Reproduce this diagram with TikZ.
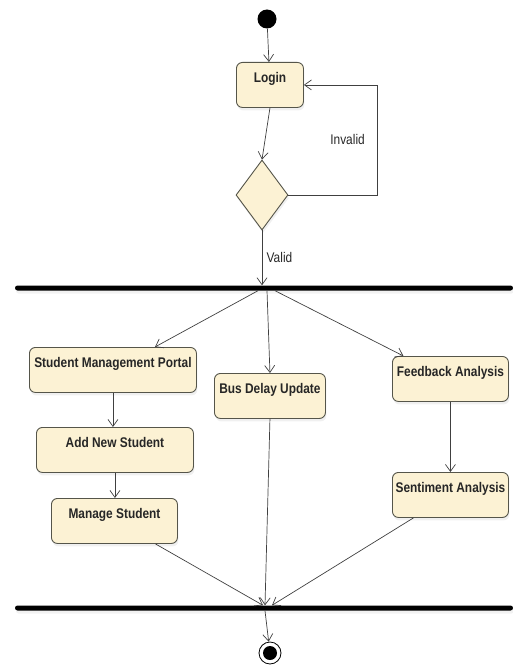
\documentclass[tikz,border=0pt]{standalone}
\usepackage{fontspec}
\setmainfont{Liberation Sans}[FakeStretch=0.85]
\usetikzlibrary{arrows.meta, positioning, shapes.geometric, shadows}

\definecolor{actfill}{HTML}{FCF2D4}
\definecolor{actline}{HTML}{55554A}

\begin{document}
\begin{tikzpicture}[x=1pt, y=-1pt,
    every node/.style={font=\fontsize{14}{16}\selectfont, text=black!85},
    act/.style={draw=actline, line width=0.9pt, fill=actfill, rounded corners=6pt, anchor=north west,
        inner xsep=2pt, inner ysep=3pt, text height=17pt, text depth=22pt,
        font=\bfseries\fontsize{14}{16}\selectfont,
        drop shadow={shadow xshift=1pt, shadow yshift=-3pt, opacity=0.12}},
    flow/.style={draw=black!75, line width=0.7pt, -{Straight Barb[length=7pt, width=10pt]}},
    bar/.style={fill=black, minimum width=498pt, minimum height=5pt, inner sep=0pt,
        rounded corners=2.5pt, drop shadow={shadow xshift=1pt, shadow yshift=-3pt, opacity=0.1}}]

\useasboundingbox (0,0) rectangle (513,669);

% start and login
\node[circle, fill=black, minimum size=19pt, inner sep=0pt] (init) at (267,19) {};
\node[act, minimum width=67pt] (login) at (236,62) {Login};

% decision
\node[diamond, draw=actline, line width=0.9pt, fill=actfill, minimum width=52pt, minimum height=70pt,
    inner sep=0pt, drop shadow={shadow xshift=1pt, shadow yshift=-3pt, opacity=0.12}] (dec) at (262,195) {};

% fork and join bars
\node[bar] (topbar) at (264,288) {};
\node[bar] (botbar) at (264,608) {};

% activities
\node[act, minimum width=167pt] (smp) at (29,347) {Student Management Portal};
\node[act, minimum width=157pt] (ans) at (36,427) {Add New Student};
\node[act, minimum width=126pt] (ms) at (51,498) {Manage Student};
\node[act, minimum width=111pt] (bdu) at (214,373) {Bus Delay Update};
\node[act, minimum width=116pt] (fa) at (392,356) {Feedback Analysis};
\node[act, minimum width=116pt] (sa) at (392,472) {Sentiment Analysis};

% end
\node[circle, draw=black, line width=0.8pt, minimum size=22pt, inner sep=0pt,
    path picture={\fill[black] (path picture bounding box.center) circle (7pt);}] (final) at (270,653) {};

% connectors
\draw[flow] (init) -- (login);
\draw[flow] (login.south) -- (dec.north);
\draw[flow] (dec.east) -- ++(89,0) |- node[pos=0.25, left=9pt] {Invalid} (login.east);
\draw[flow] (dec.south) -- (dec.south |- topbar.north) node[midway, right=1pt] {Valid};

\draw[flow] ([xshift=-6pt]topbar.south) -- ([xshift=42pt]smp.north);
\draw[flow] ([xshift=3pt]topbar.south) -- (bdu.north);
\draw[flow] ([xshift=11pt]topbar.south) -- ([xshift=-47pt]fa.north);

\draw[flow] (smp.south) -- (smp.south |- ans.north);
\draw[flow] (ans.south) -- (ans.south |- ms.north);
\draw[flow] (fa) -- (sa);

\draw[flow] ([xshift=41pt]ms.south) -- ([xshift=-1pt]botbar.north);
\draw[flow] (bdu.south) -- ([xshift=1pt]botbar.north);
\draw[flow] ([xshift=-37pt]sa.south) -- ([xshift=8pt]botbar.north);
\draw[flow] ([xshift=1pt]botbar.south) -- (final);
\end{tikzpicture}
\end{document}
